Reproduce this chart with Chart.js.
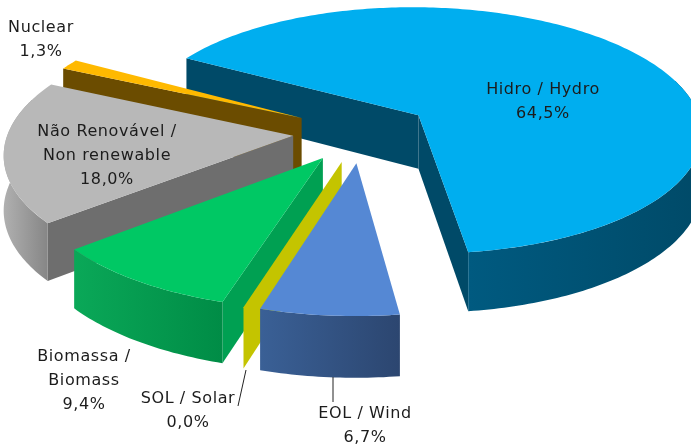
<!DOCTYPE html>
<html lang="pt">
<head>
  <meta charset="UTF-8" />
  <title>Matriz elétrica</title>
  <script src="https://cdn.jsdelivr.net/npm/chart.js"></script>
  <style>
    html, body { margin: 0; padding: 0; background: #fff; overflow: hidden; }
    #pie { display: block; }
  </style>
</head>
<body>
  <canvas id="pie" width="691" height="444"></canvas>

  <script>
    // clockwise from the hydro slice
    const categories = ["Hidro / Hydro", "EOL / Wind", "SOL / Solar", "Biomassa / Biomass", "Não Renovável / Non renewable", "Nuclear"];
    const shares = [64.5, 6.7, 0.0, 9.4, 18.0, 1.3];

    const labelLines = [["Hidro / Hydro"], ["EOL / Wind"], ["SOL / Solar"], ["Biomassa /", "Biomass"], ["Não Renovável /", "Non renewable"], ["Nuclear"]];
    const labelX = [543, 365, 188, 84, 107, 41];
    const labelY = [90, 414, 399, 357, 132, 28];

    const topColors = ["#00aeef", "#5588d4", "#c4c400", "#00c864", "#b8b8b8", "#ffb900"];
    const faceColors = ["#004a68", "#2e4a78", "#c4c400", "#00a052", "#6e6e6e", "#6b4c00"];
    const wallLeft = ["#005a80", "#3a6096", "#c4c400", "#0aa858", "#b0b0b0", "#6b4c00"];
    const wallRight = ["#004a68", "#2c4670", "#c4c400", "#008c46", "#868686", "#6b4c00"];
    const paintOrder = [0, 5, 4, 3, 2, 1]; // back to front

    // tilted camera used to turn the flat pie into the 3d one
    const view = { cx: 362, cy: 132, sx: 285, tilt: 0.44, persp: 0.124, depth: 54 };

    function project(X, Y, z) {
      const w = 1 / (1 - view.persp * Y);
      return {
        x: view.cx + view.sx * X * w,
        y: view.cy + view.sx * view.tilt * Y * w + z * view.depth * Math.pow(w, 0.8)
      };
    }

    function fillPoly(ctx, pts, style) {
      ctx.beginPath();
      pts.forEach((p, i) => i ? ctx.lineTo(p.x, p.y) : ctx.moveTo(p.x, p.y));
      ctx.closePath();
      ctx.fillStyle = style;
      ctx.fill();
    }

    function arcPoints(pt, from, to, z) {
      const pts = [];
      const n = Math.max(2, Math.ceil((to - from) * 60));
      for (let i = 0; i <= n; i++) pts.push(pt(from + (to - from) * i / n, 1, z));
      return pts;
    }

    function drawSlice(ctx, el, i) {
      const a0 = el.startAngle, a1 = el.endAngle;
      const mid = (a0 + a1) / 2;
      const e = el.options.offset / el.outerRadius;
      const pt = (a, r, z) => project(Math.cos(mid) * e + r * Math.cos(a), Math.sin(mid) * e + r * Math.sin(a), z);

      // cut faces that look at the camera
      [[a0, Math.cos(a0) < 0], [a1, Math.cos(a1) > 0]].forEach(([a, visible]) => {
        if (visible) fillPoly(ctx, [pt(a, 0, 0), pt(a, 1, 0), pt(a, 1, 1), pt(a, 0, 1)], faceColors[i]);
      });

      // outer wall, a bit past the front half so the perspective silhouette stays closed
      const lo = Math.max(a0, -0.3), hi = Math.min(a1, Math.PI + 0.3);
      if (hi > lo) {
        const upper = arcPoints(pt, lo, hi, 0);
        const lower = arcPoints(pt, lo, hi, 1).reverse();
        const xs = upper.map(p => p.x);
        const grad = ctx.createLinearGradient(Math.min(...xs), 0, Math.max(...xs), 0);
        grad.addColorStop(0, wallLeft[i]);
        grad.addColorStop(1, wallRight[i]);
        fillPoly(ctx, upper.concat(lower), grad);
      }

      // top surface
      if (a1 > a0) fillPoly(ctx, [pt(a0, 0, 0)].concat(arcPoints(pt, a0, a1, 0)), topColors[i]);
    }

    const pie3d = {
      id: "pie3d",
      beforeDatasetDraw(chart, args) {
        const arcs = chart.getDatasetMeta(args.index).data;
        paintOrder.forEach(i => drawSlice(chart.ctx, arcs[i], i));
        return false;
      },
      afterDraw(chart) {
        const ctx = chart.ctx;
        ctx.save();
        // leader lines
        ctx.strokeStyle = "#222";
        ctx.lineWidth = 1;
        ctx.beginPath();
        ctx.moveTo(246, 370); ctx.lineTo(238, 406);
        ctx.moveTo(333, 377); ctx.lineTo(333, 402);
        ctx.stroke();
        // labels
        ctx.font = "16px 'DejaVu Sans'";
        ctx.letterSpacing = "0.6px";
        ctx.fillStyle = "#1c1c1c";
        ctx.textAlign = "center";
        ctx.textBaseline = "middle";
        shares.forEach((v, i) => {
          const lines = labelLines[i].concat(v.toFixed(1).replace(".", ",") + "%");
          lines.forEach((t, j) => ctx.fillText(t, labelX[i], labelY[i] + j * 24));
        });
        ctx.restore();
      }
    };

    new Chart(document.getElementById("pie"), {
      type: "pie",
      data: {
        labels: categories,
        datasets: [{ data: shares, backgroundColor: topColors, offset: 48, borderWidth: 0 }]
      },
      options: {
        responsive: false,
        animation: false,
        rotation: -60,
        plugins: { legend: { display: false }, tooltip: { enabled: false } }
      },
      plugins: [pie3d]
    });
  </script>
</body>
</html>
